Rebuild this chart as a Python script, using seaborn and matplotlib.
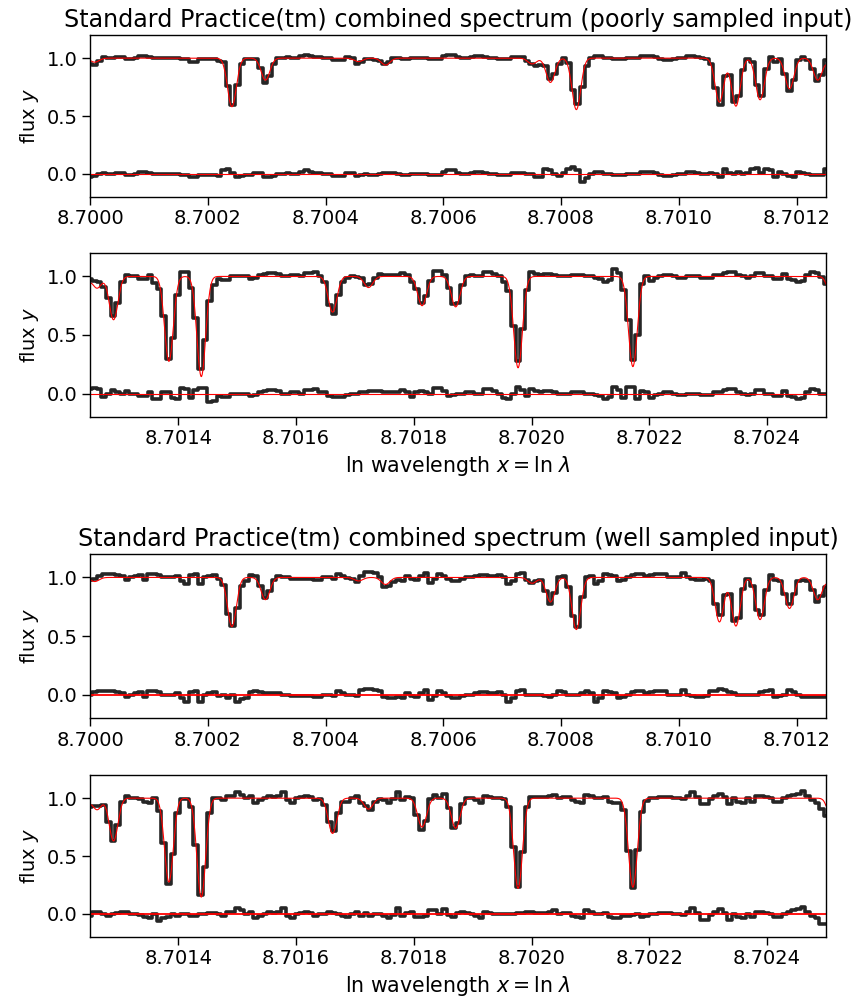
import numpy as np
import pandas as pd
import matplotlib
matplotlib.use("Agg")
import matplotlib.pyplot as plt
from matplotlib.ticker import MultipleLocator, FormatStrFormatter
import seaborn as sns

# ---------------- data ----------------
x_start = 8.7000
x_mid = 8.70125
x_end = 8.7025
n_bins_per_panel = 160

# absorption lines of the true spectrum (centre, depth), common width
line_centers = [8.700008, 8.700241, 8.700298, 8.700456, 8.700502, 8.700751,
                8.700782, 8.700826, 8.701069, 8.701097, 8.701138, 8.701188,
                8.701236, 8.701262, 8.701290, 8.701384, 8.701439, 8.701662,
                8.701723, 8.701814, 8.701871, 8.701977, 8.702172, 8.702512]
line_depths = [0.035, 0.42, 0.19, 0.03, 0.06, 0.05,
               0.21, 0.445, 0.38, 0.415, 0.36, 0.265,
               0.19, 0.10, 0.37, 0.725, 0.855, 0.305,
               0.095, 0.25, 0.26, 0.78, 0.77, 0.25]
line_sigma = 0.74e-5

# residuals (data - truth) per output pixel, in units of 0.01
resid_poor_1 = [
    -3, -2, 0, 1, 0, 0, 1, 1, -1, -1, 0, 2, 2, 1, 0, 0, 0, 0, 0, 0,
    -1, -1, -3, -3, -1, -1, -1, -1, -2, 3, 4, 1, -3, -2, -1, -1, 1, 1, -3, -3,
    -2, 0, 0, 1, 0, 0, 2, 3, 2, 1, 1, 0, 0, -2, -2, -2, 1, 1, -2, -1,
    0, -1, -1, 0, 1, 1, 1, 0, -1, -1, 0, 0, 0, 0, -1, -1, -1, 2, 3, 3,
    1, 0, 0, 1, 2, 2, 1, 0, 0, -1, -1, -1, 1, 1, 1, 0, 0, -3, -3, 4,
    3, 0, -2, 1, 4, 6, 3, -7, -4, 0, 2, 2, 0, 0, -1, -1, -1, 0, 0, 0,
    2, 2, 2, 1, -1, -2, -2, -1, 0, 0, 2, 2, 1, 0, 0, 1, 0, -3, 4, 1,
    0, 2, 0, 1, 4, 5, 1, 4, 3, -3, 2, 0, -2, -3, 2, 1, 0, -1, -1, -1]
resid_poor_2 = [
    4, 5, 4, -3, 0, 3, 1, 0, 2, 0, 0, -2, -2, 1, -5, -5, 1, 1, -4, -5,
    5, 4, -4, 3, 5, 5, -7, -6, -2, -3, -3, 0, 0, 0, 0, -2, -1, 1, 2, 3,
    3, 2, 0, 0, 1, 1, 0, 3, 3, 4, 1, 1, -2, -3, -3, -3, -1, 0, 0, 1,
    1, 2, 2, 2, 1, 1, 1, 1, 3, 1, -3, 1, 2, 1, 0, 5, 5, 2, -2, -1,
    0, 0, 1, 1, 0, 0, 4, 4, 2, 0, -4, -5, 0, 6, 3, -2, 4, 2, 1, 2,
    2, 1, 0, 0, 0, 1, 1, 1, 0, 0, -1, -2, -5, -3, 6, 3, -4, 6, 6, -5,
    2, 1, -4, -1, 0, 1, 1, 0, -1, -1, 0, 0, 0, -1, -1, -1, 1, 1, 3, 4,
    4, 1, 0, -1, 0, 3, 3, 0, 0, -2, -2, 2, -2, -3, -5, -4, 1, 4, 3, 0]
resid_poor_end = [0]
resid_well_1 = [
    0, 2, 3, 3, 3, 3, 2, 1, -2, 0, 1, 2, -2, 3, 3, 2, 0, 0, 0, 1,
    -3, -6, 2, 3, -6, 0, 1, 2, -1, 0, -3, 0, -6, -4, -3, 2, 3, 2, 1, 1,
    1, 1, 0, 0, -1, -1, -1, -1, -1, -2, -2, 0, 0, -1, 3, 1, 0, 0, -1, 4,
    5, 5, 4, 3, -2, -3, -3, -2, -3, 1, -1, -2, 1, 4, -5, -1, 3, 1, -1, -3,
    -3, -1, 0, 0, 1, 2, 2, 1, 1, 2, 0, -6, -3, 3, 4, 0, 0, 0, 0, -1,
    -2, 0, 3, 2, 0, 0, 0, 1, 3, 1, -6, -3, 3, 2, 1, -3, -2, 0, 2, 3,
    3, 1, 2, 3, 3, 3, 0, 0, 0, 4, 0, -1, -2, -2, -1, 3, 3, 5, 4, 2,
    1, 0, 0, 0, 0, 0, 2, 3, 4, -2, -1, 0, 4, 2, 0, -2, -2, -2, -2, -2]
resid_well_2 = [
    -2, 2, 2, 0, -2, 0, 1, 2, 2, 0, 0, -1, -3, -4, 0, -6, -4, -3, 0, -2,
    0, 0, -2, -2, 0, 0, 1, 1, 0, -2, 2, 2, 5, 3, 0, 2, -4, -2, 0, 2,
    1, 2, 5, -2, -4, 0, 1, 2, 1, -2, 0, 0, 2, 1, 0, -2, -3, 0, 2, -2,
    1, -2, 0, 0, -2, -4, -1, 5, -2, 1, 2, -3, -3, -2, 3, 3, 0, 4, -1, -3,
    1, 2, 1, 0, -2, -4, 2, 1, 0, 0, 0, 0, 0, 1, 1, 2, 2, 1, 1, 1,
    2, 3, 0, 1, 1, -2, -3, -4, 3, 2, 0, 0, 1, -3, -4, -4, -2, -2, -1, 0,
    -3, -2, 0, 0, 1, 1, 1, 0, 0, -1, 2, 5, 1, -5, -5, -1, 2, 4, 1, -5,
    0, -3, -4, 0, -3, 2, 2, 1, 0, -3, -3, 0, 2, 3, 4, 6, 2, -2, -4, -9]
resid_well_end = [-9]

titles = ["Standard Practice(tm) combined spectrum (poorly sampled input)",
          "Standard Practice(tm) combined spectrum (well sampled input)"]
xlabel_text = r"ln wavelength $x = \ln\,\lambda$"
ylabel_text = r"flux $y$"
yticks = [0.0, 0.5, 1.0]

# ---------------- helpers ----------------
def truth(x):
    x = np.asarray(x, dtype=float)
    f = np.ones_like(x)
    for c, d in zip(line_centers, line_depths):
        f *= 1.0 - d * np.exp(-0.5 * ((x - c) / line_sigma) ** 2)
    return f

n_total = 2 * n_bins_per_panel
dx = (x_end - x_start) / n_total
x_pix = x_start + np.arange(n_total + 1) * dx
x_fine = np.linspace(x_start - 2 * dx, x_end + 2 * dx, 6000)
y_fine = truth(x_fine)

def make_frame(res_a, res_b, res_end):
    res = np.array(res_a + res_b + res_end, dtype=float) / 100.0
    flux = truth(x_pix) + res
    return pd.DataFrame({"x": x_pix, "flux": flux, "resid": res})

frames = [make_frame(resid_poor_1, resid_poor_2, resid_poor_end),
          make_frame(resid_well_1, resid_well_2, resid_well_end)]

# ---------------- styling ----------------
sns.set_theme(style="ticks", context="notebook")
plt.rcParams["font.family"] = ["DejaVu Sans"]
plt.rcParams.update({
    "axes.linewidth": 1.0,
    "axes.edgecolor": "black",
    "xtick.major.size": 5.5,
    "ytick.major.size": 5.5,
    "xtick.major.width": 1.0,
    "ytick.major.width": 1.0,
    "xtick.labelsize": 14,
    "ytick.labelsize": 14,
    "xtick.color": "black",
    "ytick.color": "black",
    "axes.labelsize": 14,
    "axes.labelcolor": "black",
    "text.color": "black",
})

W, H = 855, 1002
fig = plt.figure(figsize=(W / 100, H / 100), dpi=100)

# (top px, bottom px) of each panel
panel_px = [(35, 197), (253, 417), (554, 718), (775, 937)]
left_px, right_px = 90, 826

for k, (top, bot) in enumerate(panel_px):
    ax = fig.add_axes([left_px / W, 1 - bot / H, (right_px - left_px) / W, (bot - top) / H])
    df = frames[k // 2]
    half = k % 2
    xlo, xhi = (x_start, x_mid) if half == 0 else (x_mid, x_end)

    sns.lineplot(data=df, x="x", y="flux", ax=ax, color="black", alpha=0.85,
                 lw=2.6, drawstyle="steps-mid", estimator=None, sort=True)
    sns.lineplot(data=df, x="x", y="resid", ax=ax, color="black", alpha=0.85,
                 lw=2.6, drawstyle="steps-mid", estimator=None, sort=True)
    sns.lineplot(x=x_fine, y=y_fine, ax=ax, color="red", lw=0.8, estimator=None)
    ax.axhline(0.0, color="red", lw=0.8 if k < 2 else 1.3)

    ax.set_xlim(xlo, xhi)
    ax.set_ylim(-0.2, 1.2)
    ax.xaxis.set_major_locator(MultipleLocator(0.0002))
    ax.xaxis.set_major_formatter(FormatStrFormatter("%.4f"))
    ax.set_yticks(yticks)
    ax.yaxis.set_major_formatter(FormatStrFormatter("%.1f"))
    ax.set_ylabel(ylabel_text)
    if half == 1:
        ax.set_xlabel(xlabel_text, fontsize=14.8)
    else:
        ax.set_xlabel("")
        ax.set_title(titles[k // 2], fontsize=17.2, pad=6)
    for s in ax.spines.values():
        s.set_visible(True)
        s.set_color("black")

fig.savefig("out.png", dpi=100)
